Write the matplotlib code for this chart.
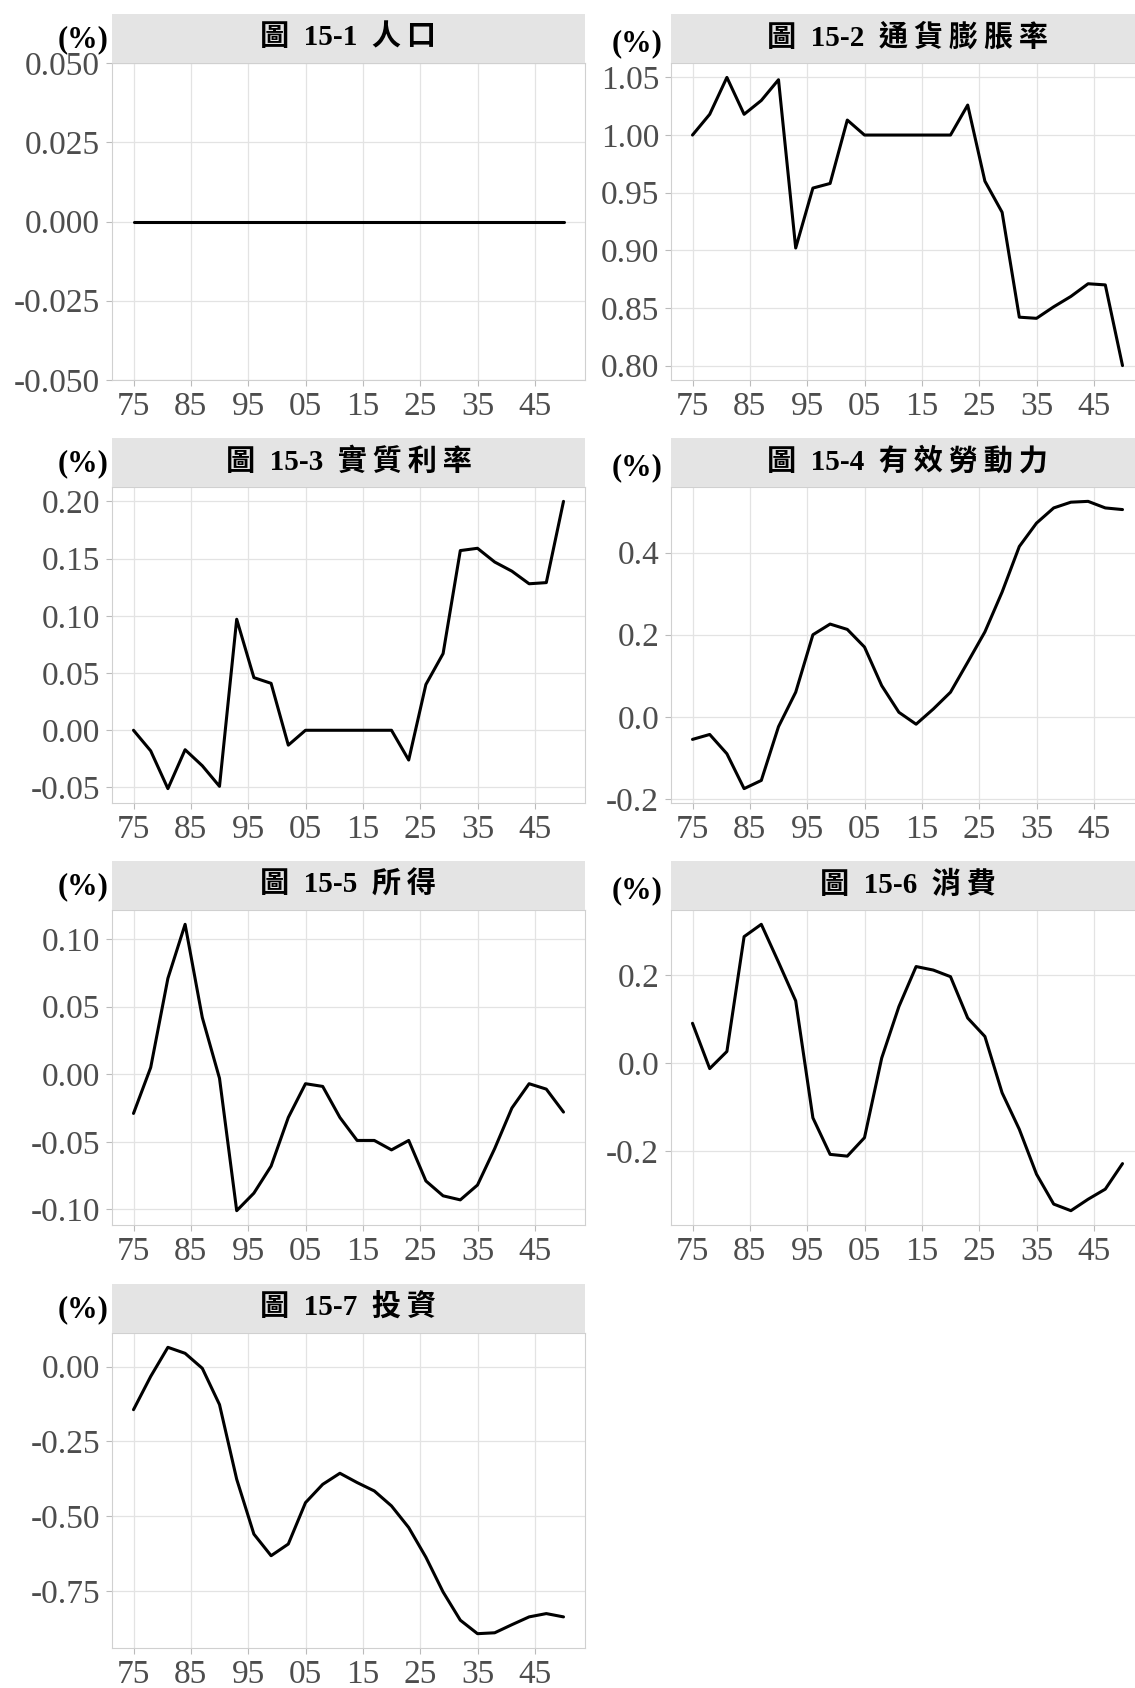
import matplotlib
matplotlib.use("Agg")
import matplotlib.pyplot as plt

# ---- data -------------------------------------------------------------
years = [1975, 1978, 1981, 1984, 1987, 1990, 1993, 1996, 1999, 2002,
         2005, 2008, 2011, 2014, 2017, 2020, 2023, 2026, 2029, 2032,
         2035, 2038, 2041, 2044, 2047, 2050]

x_ticks = [1975, 1985, 1995, 2005, 2015, 2025, 2035, 2045]
x_tick_labels = ["75", "85", "95", "05", "15", "25", "35", "45"]

# figure number and series name of each panel
fig_numbers = ["15-1", "15-2", "15-3", "15-4", "15-5", "15-6", "15-7"]
names = ["人口", "通貨膨脹率", "實質利率", "有效勞動力", "所得", "消費", "投資"]

population = [0.0] * 26

inflation = [1.000, 1.018, 1.050, 1.018, 1.030, 1.048, 0.902, 0.954, 0.958,
             1.013, 1.000, 1.000, 1.000, 1.000, 1.000, 1.000, 1.026, 0.960,
             0.933, 0.842, 0.841, 0.851, 0.860, 0.871, 0.870, 0.800]

real_rate = [0.000, -0.018, -0.051, -0.017, -0.031, -0.049, 0.097, 0.046,
             0.041, -0.013, 0.000, 0.000, 0.000, 0.000, 0.000, 0.000,
             -0.026, 0.040, 0.067, 0.157, 0.159, 0.147, 0.139, 0.128,
             0.129, 0.200]

labor = [-0.055, -0.043, -0.090, -0.175, -0.155, -0.024, 0.060, 0.200,
         0.226, 0.213, 0.170, 0.076, 0.011, -0.018, 0.019, 0.060, 0.133,
         0.207, 0.304, 0.415, 0.472, 0.509, 0.523, 0.525, 0.509, 0.505]

income = [-0.029, 0.005, 0.071, 0.111, 0.042, -0.003, -0.101, -0.088,
          -0.068, -0.032, -0.007, -0.009, -0.032, -0.049, -0.049, -0.056,
          -0.049, -0.079, -0.090, -0.093, -0.082, -0.055, -0.025, -0.007,
          -0.011, -0.028]

consumption = [0.091, -0.012, 0.027, 0.288, 0.316, 0.230, 0.142, -0.124,
               -0.207, -0.211, -0.169, 0.012, 0.129, 0.220, 0.212, 0.197,
               0.103, 0.061, -0.067, -0.150, -0.252, -0.320, -0.335, -0.309,
               -0.286, -0.228]

investment = [-0.144, -0.033, 0.064, 0.044, -0.006, -0.127, -0.376, -0.559,
              -0.631, -0.592, -0.454, -0.393, -0.356, -0.387, -0.415, -0.465,
              -0.537, -0.636, -0.752, -0.846, -0.891, -0.888, -0.861, -0.835,
              -0.824, -0.835]

series = [population, inflation, real_rate, labor, income, consumption,
          investment]

y_ticks = [
    [-0.050, -0.025, 0.000, 0.025, 0.050],
    [0.80, 0.85, 0.90, 0.95, 1.00, 1.05],
    [-0.05, 0.00, 0.05, 0.10, 0.15, 0.20],
    [-0.2, 0.0, 0.2, 0.4],
    [-0.10, -0.05, 0.00, 0.05, 0.10],
    [-0.2, 0.0, 0.2],
    [-0.75, -0.50, -0.25, 0.00],
]
y_decimals = [3, 2, 2, 1, 2, 1, 2]

# ---- layout (pixel grid of a 1135 x 1688 canvas) ----------------------
W, H = 1135, 1688
cols = [(112, 585), (671, 1144)]
rows = [(63, 380), (487, 803), (910, 1225), (1333, 1648)]
STRIP_H = 49


def rect(x0, y0, x1, y1):
    return [x0 / W, 1 - y1 / H, (x1 - x0) / W, (y1 - y0) / H]


SERIF = "Liberation Serif"
TITLE_FAMILY = ["Liberation Serif", "Noto Sans CJK TC"]
TICK_COLOR = "#4D4D4D"
GRID_COLOR = "#E3E3E3"
BORDER_COLOR = "#D0D0D0"
STRIP_COLOR = "#E4E4E4"

fig = plt.figure(figsize=(W / 100, H / 100), dpi=100)
fig.patch.set_facecolor("white")

for i, vals in enumerate(series):
    r, c = divmod(i, 2)
    x0, x1 = cols[c]
    y0, y1 = rows[r]

    ax = fig.add_axes(rect(x0, y0, x1, y1))
    ax.set_facecolor("white")
    ax.plot(years, vals, color="black", lw=2.2, solid_joinstyle="round",
            solid_capstyle="round", zorder=3)

    # x range: data span plus 5% each side
    span = years[-1] - years[0]
    ax.set_xlim(years[0] - 0.05 * span, years[-1] + 0.05 * span)
    ax.set_xticks(x_ticks)
    ax.set_xticklabels(x_tick_labels)

    ticks = y_ticks[i]
    d = y_decimals[i]
    ax.set_yticks(ticks)
    ax.set_yticklabels([f"{t:.{d}f}" for t in ticks])
    lo, hi = min(vals), max(vals)
    if hi - lo == 0:
        ax.set_ylim(ticks[0], ticks[-1])
    else:
        pad = 0.05 * (hi - lo)
        ax.set_ylim(lo - pad, hi + pad)

    ax.grid(True, color=GRID_COLOR, lw=0.9, zorder=0)
    ax.set_axisbelow(True)
    for s in ax.spines.values():
        s.set_color(BORDER_COLOR)
        s.set_linewidth(0.8)
    ax.tick_params(axis="both", colors="#BBBBBB", length=4.5, width=0.8,
                   labelcolor=TICK_COLOR, labelsize=24, pad=4)
    for lab in ax.get_xticklabels() + ax.get_yticklabels():
        lab.set_fontfamily(SERIF)

    # facet strip above the panel, CJK name set with a little letter spacing
    sx = fig.add_axes(rect(x0, y0 - STRIP_H, x1, y0))
    sx.set_facecolor(STRIP_COLOR)
    sx.set_xticks([])
    sx.set_yticks([])
    for s in sx.spines.values():
        s.set_visible(False)
    title = "圖  " + fig_numbers[i] + "  " + "\u2009".join(names[i])
    sx.text(0.5, 0.52, title, ha="center", va="center", fontsize=21,
            fontweight="bold", family=TITLE_FAMILY, color="black")

    # unit label beside the strip
    ux = 83 if c == 0 else 637
    uy = y0 - STRIP_H + (26 if c == 0 else 30)
    fig.text(ux / W, 1 - uy / H, "(%)", ha="center", va="center",
             fontsize=22, fontweight="bold", family=SERIF, color="black")

fig.savefig("out.png", dpi=100, facecolor="white")
